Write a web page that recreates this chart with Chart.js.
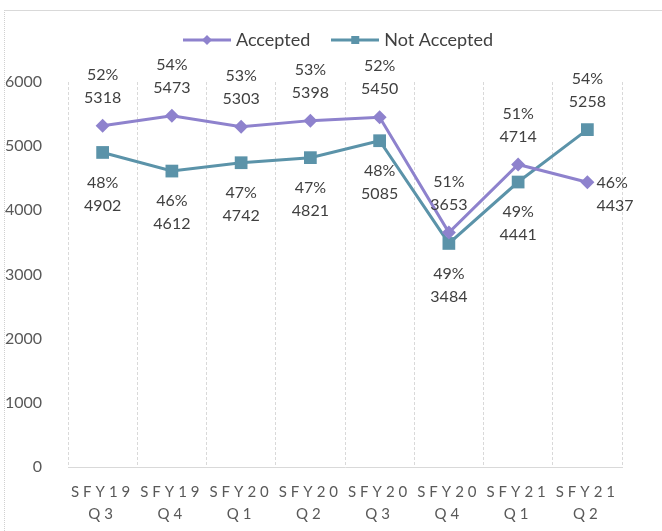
<!DOCTYPE html>
<html>
<head>
<meta charset="utf-8">
<script src="https://cdn.jsdelivr.net/npm/chart.js@4.4.1/dist/chart.umd.min.js"></script>
<style>
    html, body { margin: 0; padding: 0; background: #fff; overflow: hidden; }
    #frame {
        position: absolute; left: 4px; top: 10px; width: 700px; height: 600px;
        border-left: 1px dotted #d0d0d0; border-top: 1px solid #d9d9d9;
    }
    #wrap { position: absolute; left: 0; top: 0; width: 662px; height: 531px; }
</style>
</head>
<body>
<div id="frame"></div>
<div id="wrap"><canvas id="grafico" width="662" height="531"></canvas></div>
<script>
// Datos
const categorias = [
    ['SFY19', 'Q3'], ['SFY19', 'Q4'], ['SFY20', 'Q1'], ['SFY20', 'Q2'],
    ['SFY20', 'Q3'], ['SFY20', 'Q4'], ['SFY21', 'Q1'], ['SFY21', 'Q2']
];
const aceptadas = [5318, 5473, 5303, 5398, 5450, 3653, 4714, 4437];
const noAceptadas = [4902, 4612, 4742, 4821, 5085, 3484, 4441, 5258];
const pctAceptadas = [52, 54, 53, 53, 52, 51, 51, 46];
const pctNoAceptadas = [48, 46, 47, 47, 48, 49, 49, 54];
const ticksY = [0, 1000, 2000, 3000, 4000, 5000, 6000];

// donde va cada etiqueta respecto a su punto
const posAceptadas = ['above', 'above', 'above', 'above', 'above', 'above', 'above', 'right'];
const posNoAceptadas = ['below', 'below', 'below', 'below', 'below', 'below', 'below', 'above'];

const COLORES = {
    ACEPTADAS: '#8e82cd',
    NO_ACEPTADAS: '#5b93a9',
    TEXTO: '#404040',
    EJES: '#595959',
    REJILLA: '#d9d9d9'
};
const FUENTE = 'Lato, "Open Sans", sans-serif';

// muestra de leyenda: linea con el marcador en medio
function muestraLeyenda(color, forma) {
    const c = document.createElement('canvas');
    c.width = 48; c.height = 14;
    const g = c.getContext('2d');
    g.strokeStyle = color;
    g.lineWidth = 3;
    g.beginPath(); g.moveTo(0, 7); g.lineTo(48, 7); g.stroke();
    g.fillStyle = color;
    g.beginPath();
    if (forma === 'rombo') {
        g.moveTo(24, 2); g.lineTo(29, 7); g.lineTo(24, 12); g.lineTo(19, 7);
    } else {
        g.rect(20, 3, 8, 8);
    }
    g.closePath(); g.fill();
    return c;
}
const iconos = [muestraLeyenda(COLORES.ACEPTADAS, 'rombo'), muestraLeyenda(COLORES.NO_ACEPTADAS, 'cuadrado')];

// etiquetas de datos (porcentaje + valor)
const etiquetasPlugin = {
    id: 'etiquetas',
    afterDatasetsDraw(chart) {
        const ctx = chart.ctx;
        const pcts = [pctAceptadas, pctNoAceptadas];
        const posiciones = [posAceptadas, posNoAceptadas];
        ctx.save();
        ctx.font = '16px ' + FUENTE;
        ctx.fillStyle = COLORES.TEXTO;
        ctx.textBaseline = 'middle';
        chart.data.datasets.forEach((ds, i) => {
            const meta = chart.getDatasetMeta(i);
            meta.data.forEach((pt, j) => {
                const l1 = pcts[i][j] + '%';
                const l2 = String(ds.data[j]);
                const p = posiciones[i][j];
                if (p === 'right') {
                    ctx.textAlign = 'left';
                    ctx.fillText(l1, pt.x + 9, pt.y + 1);
                    ctx.fillText(l2, pt.x + 9, pt.y + 24);
                } else if (p === 'above') {
                    ctx.textAlign = 'center';
                    ctx.fillText(l1, pt.x, pt.y - 51);
                    ctx.fillText(l2, pt.x, pt.y - 28);
                } else {
                    ctx.textAlign = 'center';
                    ctx.fillText(l1, pt.x, pt.y + 30);
                    ctx.fillText(l2, pt.x, pt.y + 53);
                }
            });
        });
        ctx.restore();
    }
};

// espaciado entre letras en el eje X y posicion de la leyenda
const ajustesPlugin = {
    id: 'ajustes',
    beforeLayout(chart) {
        const ley = chart.legend;
        if (ley && !ley._ajustada) {
            const fitOriginal = ley.fit;
            ley.fit = function () {
                fitOriginal.call(this);
                this.height = 76;
            };
            ley._ajustada = true;
        }
    },
    afterLayout(chart) {
        // la leyenda del original esta algo desplazada a la derecha
        if (chart.legend) {
            chart.legend.left += 7;
            chart.legend.right += 7;
        }
    },
    beforeDraw(chart) {
        const esc = chart.scales.x;
        if (esc && !esc._conEspaciado) {
            const original = esc.drawLabels;
            esc.drawLabels = function (area) {
                const ctx = this.ctx;
                ctx.save();
                ctx.letterSpacing = '4px';
                original.call(this, area);
                ctx.restore();
            };
            esc._conEspaciado = true;
        }
    }
};

new Chart(document.getElementById('grafico'), {
    type: 'line',
    data: {
        labels: categorias,
        datasets: [
            {
                label: 'Accepted',
                data: aceptadas,
                borderColor: COLORES.ACEPTADAS,
                backgroundColor: COLORES.ACEPTADAS,
                borderWidth: 3,
                pointStyle: 'rectRot',
                pointRadius: 7,
                pointBorderWidth: 0,
                tension: 0
            },
            {
                label: 'Not Accepted',
                data: noAceptadas,
                borderColor: COLORES.NO_ACEPTADAS,
                backgroundColor: COLORES.NO_ACEPTADAS,
                borderWidth: 3,
                pointStyle: 'rect',
                pointRadius: 9,
                pointBorderWidth: 0,
                tension: 0
            }
        ]
    },
    options: {
        responsive: false,
        animation: false,
        layout: { padding: { left: 4, right: 0, top: 6, bottom: 0 } },
        plugins: {
            tooltip: { enabled: false },
            legend: {
                position: 'top',
                labels: {
                    usePointStyle: true,
                    pointStyleWidth: 40,
                    padding: 25,
                    color: COLORES.TEXTO,
                    font: { family: FUENTE, size: 18 },
                    generateLabels(chart) {
                        const items = Chart.defaults.plugins.legend.labels.generateLabels(chart);
                        items.forEach((it, k) => { it.pointStyle = iconos[k]; });
                        return items;
                    }
                }
            }
        },
        scales: {
            x: {
                offset: true,
                grid: { display: true, offset: true, color: COLORES.REJILLA, drawTicks: false },
                // en v4 border.dash es el trazo de las lineas de rejilla
                border: { display: true, color: COLORES.REJILLA, dash: [3, 2] },
                ticks: {
                    color: COLORES.EJES,
                    padding: 14,
                    maxRotation: 0,
                    autoSkip: false,
                    font: { family: FUENTE, size: 15, lineHeight: 1.47 }
                },
                afterFit(scale) { scale.height = 64; }
            },
            y: {
                min: 0,
                max: 6000,
                afterBuildTicks(scale) { scale.ticks = ticksY.map(v => ({ value: v })); },
                grid: { display: false, drawTicks: false },
                border: { display: false },
                ticks: {
                    color: COLORES.EJES,
                    padding: 26,
                    font: { family: FUENTE, size: 16 },
                    callback: (v) => String(v)
                },
                afterFit(scale) { scale.width = 64; }
            },
            derecha: {
                position: 'right',
                display: true,
                grid: { display: false, drawTicks: false },
                border: { display: false },
                ticks: { display: false },
                afterFit(scale) { scale.width = 40; }
            }
        }
    },
    plugins: [etiquetasPlugin, ajustesPlugin]
});
</script>
</body>
</html>
